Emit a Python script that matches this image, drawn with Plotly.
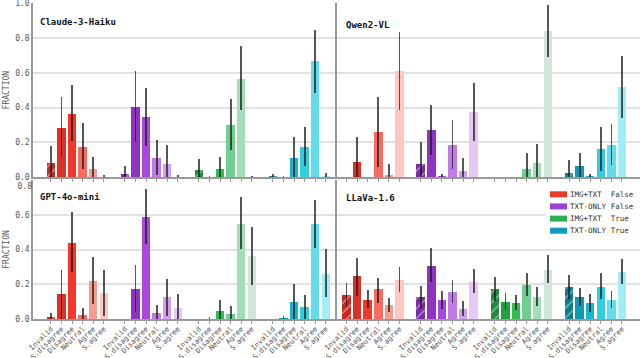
import plotly.graph_objects as go
from plotly.subplots import make_subplots

# answer levels and conditions
LEVELS = ["Invalid", "S.disagree", "Disagree", "Neutral", "Agree", "S.agree"]
CONDITIONS = ["IMG+TXT\u00a0\u00a0False", "TXT-ONLY\u00a0False", "IMG+TXT\u00a0\u00a0True", "TXT-ONLY\u00a0True"]
MODELS = ["Claude-3-Haiku", "Qwen2-VL", "GPT-4o-mini", "LLaVa-1.6"]

# fraction per condition (rows) and level (cols), with lower/upper ends of the error bars
CLAUDE_MEAN = [[0.080, 0.284, 0.364, 0.175, 0.048, 0.0],
               [0.017, 0.406, 0.345, 0.112, 0.076, 0.0],
               [0.042, 0.0, 0.048, 0.303, 0.564, 0.0],
               [0.004, 0.0, 0.112, 0.175, 0.665, 0.005]]
CLAUDE_LO = [[0.0, 0.114, 0.206, 0.050, 0.0, 0.0],
             [0.0, 0.200, 0.180, 0.013, 0.0, 0.0],
             [0.0, 0.0, 0.0, 0.156, 0.385, 0.0],
             [0.0, 0.0, 0.0, 0.067, 0.486, 0.0]]
CLAUDE_HI = [[0.179, 0.460, 0.528, 0.309, 0.118, 0.013],
             [0.067, 0.610, 0.514, 0.213, 0.187, 0.013],
             [0.105, 0.010, 0.116, 0.450, 0.752, 0.010],
             [0.017, 0.008, 0.232, 0.288, 0.848, 0.027]]

QWEN_MEAN = [[0.0, 0.086, 0.0, 0.259, 0.011, 0.608],
             [0.076, 0.272, 0.004, 0.187, 0.036, 0.375],
             [0.0, 0.0, 0.0, 0.050, 0.080, 0.842],
             [0.023, 0.065, 0.004, 0.162, 0.185, 0.516]]
QWEN_LO = [[0.0, 0.0, 0.0, 0.060, 0.0, 0.385],
           [0.0, 0.130, 0.0, 0.050, 0.0, 0.211],
           [0.0, 0.0, 0.0, 0.0, 0.0, 0.693],
           [0.0, 0.0, 0.0, 0.038, 0.072, 0.339]]
QWEN_HI = [[0.0, 0.232, 0.0, 0.460, 0.076, 0.832],
           [0.200, 0.417, 0.020, 0.328, 0.110, 0.543],
           [0.0, 0.0, 0.0, 0.141, 0.192, 0.987],
           [0.097, 0.137, 0.020, 0.291, 0.305, 0.697]]

GPT_MEAN = [[0.010, 0.143, 0.440, 0.025, 0.217, 0.147],
            [0.0, 0.173, 0.587, 0.036, 0.124, 0.065],
            [0.0, 0.0, 0.044, 0.029, 0.550, 0.360],
            [0.0, 0.004, 0.100, 0.070, 0.545, 0.261]]
GPT_LO = [[0.0, 0.0, 0.269, 0.0, 0.084, 0.019],
          [0.0, 0.038, 0.430, 0.0, 0.015, 0.0],
          [0.0, 0.0, 0.0, 0.0, 0.402, 0.196],
          [0.0, 0.0, 0.0, 0.0, 0.408, 0.124]]
GPT_HI = [[0.034, 0.284, 0.615, 0.061, 0.356, 0.282],
          [0.0, 0.309, 0.750, 0.082, 0.232, 0.143],
          [0.0, 0.010, 0.107, 0.074, 0.705, 0.530],
          [0.0, 0.020, 0.200, 0.140, 0.684, 0.406]]

LLAVA_MEAN = [[0.141, 0.248, 0.112, 0.173, 0.078, 0.227],
              [0.126, 0.307, 0.107, 0.158, 0.057, 0.215],
              [0.173, 0.099, 0.093, 0.196, 0.128, 0.284],
              [0.185, 0.128, 0.090, 0.187, 0.110, 0.272]]
LLAVA_LO = [[0.067, 0.135, 0.065, 0.091, 0.038, 0.156],
            [0.065, 0.211, 0.059, 0.091, 0.015, 0.149],
            [0.103, 0.050, 0.050, 0.130, 0.074, 0.206],
            [0.118, 0.076, 0.040, 0.114, 0.063, 0.204]]
LLAVA_HI = [[0.208, 0.354, 0.168, 0.236, 0.122, 0.297],
            [0.189, 0.410, 0.164, 0.225, 0.103, 0.288],
            [0.242, 0.147, 0.137, 0.265, 0.183, 0.368],
            [0.251, 0.181, 0.145, 0.265, 0.162, 0.347]]

# y ticks
TOP_TICKS = [0.0, 0.2, 0.4, 0.6, 0.8, 1.0]
BOTTOM_TICKS = [0.0, 0.2, 0.4, 0.6, 0.8]

# colours: one shade per level, per condition
SHADES = [["#c8281e", "#d93226", "#f2362a", "#fa6a60", "#fb9a90", "#fdc8c1"],
          ["#7e2aa8", "#9033c0", "#a848dc", "#c27ae8", "#d49eef", "#e6c8f5"],
          ["#1f8a3c", "#22a040", "#2fbf50", "#6fcf90", "#a2dfb5", "#cfe6d8"],
          ["#0b7c90", "#0d9ab4", "#17b5d2", "#30cfe0", "#62dbea", "#a2ecf5"]]
LEGEND_COLORS = ["#e8392b", "#a040d0", "#2eae55", "#0f9cbc"]

panels = [
    (1, 1, CLAUDE_MEAN, CLAUDE_LO, CLAUDE_HI),
    (1, 2, QWEN_MEAN, QWEN_LO, QWEN_HI),
    (2, 1, GPT_MEAN, GPT_LO, GPT_HI),
    (2, 2, LLAVA_MEAN, LLAVA_LO, LLAVA_HI),
]

MONO = "DejaVu Sans Mono"
W, H = 640, 358
ML, MR, MT, MB = 33, 0, 3, 39


def px_x(p):
    return (p - ML) / (W - ML - MR)


def px_y(p):
    return (H - MB - p) / (H - MT - MB)


fig = make_subplots(rows=2, cols=2, horizontal_spacing=0, vertical_spacing=0.01)

xticks = []
xlabels = []
for g in range(4):
    for k in range(6):
        xticks.append(7 * g + k)
        xlabels.append(LEVELS[k])

for row, col, mean, lo, hi in panels:
    for g in range(4):
        xs = [7 * g + k for k in range(6)]
        fig.add_trace(go.Bar(
            x=xs, y=mean[g], width=0.8, name=CONDITIONS[g],
            marker=dict(color=SHADES[g], line=dict(width=0),
                        pattern=dict(shape=["/", "", "", "", "", ""], fgcolor="white",
                                     size=7, solidity=0.18)),
            error_y=dict(type="data", symmetric=False,
                         array=[h - m for h, m in zip(hi[g], mean[g])],
                         arrayminus=[m - l for m, l in zip(mean[g], lo[g])],
                         color="rgba(30,30,30,0.75)", thickness=1.8, width=0),
            showlegend=False, hoverinfo="skip",
        ), row=row, col=col)

ax_common = dict(showgrid=False, zeroline=False, showline=True, linecolor="#999",
                 linewidth=1.5, ticks="outside", ticklen=3, tickcolor="#999",
                 tickvals=xticks, ticktext=xlabels, tickangle=-45, automargin=False,
                 ticklabeloverflow="allow", ticklabelstandoff=-2,
                 tickfont=dict(family=MONO, size=7.2, color="#555"))
fig.update_xaxes(**ax_common)
fig.update_xaxes(showticklabels=False, row=1)
fig.update_xaxes(range=[-1.7, 27.06], domain=[0, px_x(337)], col=1)
fig.update_xaxes(range=[-0.9, 27.7], domain=[px_x(337), 1], col=2)

fig.update_yaxes(showgrid=True, gridcolor="#e2e2e2", gridwidth=1.5, zeroline=False,
                 showline=True, linecolor="#999", linewidth=1.5, ticks="",
                 automargin=False, ticklabeloverflow="allow",
                 tickfont=dict(family=MONO, size=8, color="#555"))
fig.update_yaxes(range=[0, 1.0005], tickvals=TOP_TICKS,
                 ticktext=["%.1f" % v for v in TOP_TICKS],
                 domain=[px_y(177.3), 1], row=1)
fig.update_yaxes(range=[0, 0.8005], tickvals=BOTTOM_TICKS,
                 ticktext=["%.1f" % v for v in BOTTOM_TICKS[:-1]] + [""],
                 domain=[0, px_y(180)], row=2)
fig.update_yaxes(showticklabels=False, col=2)
fig.update_yaxes(title=dict(text="FRACTION", font=dict(family=MONO, size=8, color="#555"),
                            standoff=4), col=1)

# the lower row's top label sits a little below its tick, as in the source:
# an extra axis over the lower-left panel carries only that label
fig.add_trace(go.Scatter(x=[None], y=[None], xaxis="x3", yaxis="y5",
                         showlegend=False, hoverinfo="skip"))
fig.update_layout(yaxis5=dict(
    overlaying="y3", anchor="x3", side="left", range=[0, 0.8005],
    tickvals=BOTTOM_TICKS[-1:], ticktext=["%.1f" % BOTTOM_TICKS[-1]],
    ticklabelshift=6, ticklabeloverflow="allow", showgrid=False, showline=False,
    zeroline=False, ticks="", automargin=False,
    tickfont=dict(family=MONO, size=8, color="#555")))

annots = [("Claude-3-Haiku", "x domain", "y domain", 0.015, 0.89),
          ("Qwen2-VL", "x2 domain", "y2 domain", 0.022, 0.872),
          ("GPT-4o-mini", "x3 domain", "y3 domain", 0.015, 0.88),
          ("LLaVa-1.6", "x4 domain", "y4 domain", 0.024, 0.87)]
for text, xr, yr, ax, ay in annots:
    fig.add_annotation(text="<b>" + text + "</b>", xref=xr, yref=yr, x=ax, y=ay,
                       xanchor="left", yanchor="middle", showarrow=False,
                       font=dict(family=MONO, size=9, color="#111"))

# legend box in the lower right panel
fig.add_shape(type="rect", xref="paper", yref="paper", layer="above",
              x0=px_x(545), x1=1.0, y0=px_y(239), y1=px_y(185),
              fillcolor="white", line=dict(width=0))
rows_y = [194.3, 206.4, 218.6, 230.7]
for g in range(4):
    fig.add_shape(type="rect", xref="paper", yref="paper", layer="above",
                  x0=px_x(550), x1=px_x(567), y0=px_y(rows_y[g] + 3), y1=px_y(rows_y[g] - 3),
                  fillcolor=LEGEND_COLORS[g], line=dict(width=0))
    fig.add_annotation(text=CONDITIONS[g], xref="paper", yref="paper",
                       x=px_x(568), y=px_y(rows_y[g]), xanchor="left", yanchor="middle",
                       showarrow=False, font=dict(family=MONO, size=7.5, color="#333"))

fig.update_layout(
    width=W, height=H,
    margin=dict(l=ML, r=MR, t=MT, b=MB),
    paper_bgcolor="white", plot_bgcolor="white",
    barmode="overlay", bargap=0, showlegend=False,
)

fig.write_html("out.html", config={"displayModeBar": False},
               post_script="document.body.style.margin='0';")
